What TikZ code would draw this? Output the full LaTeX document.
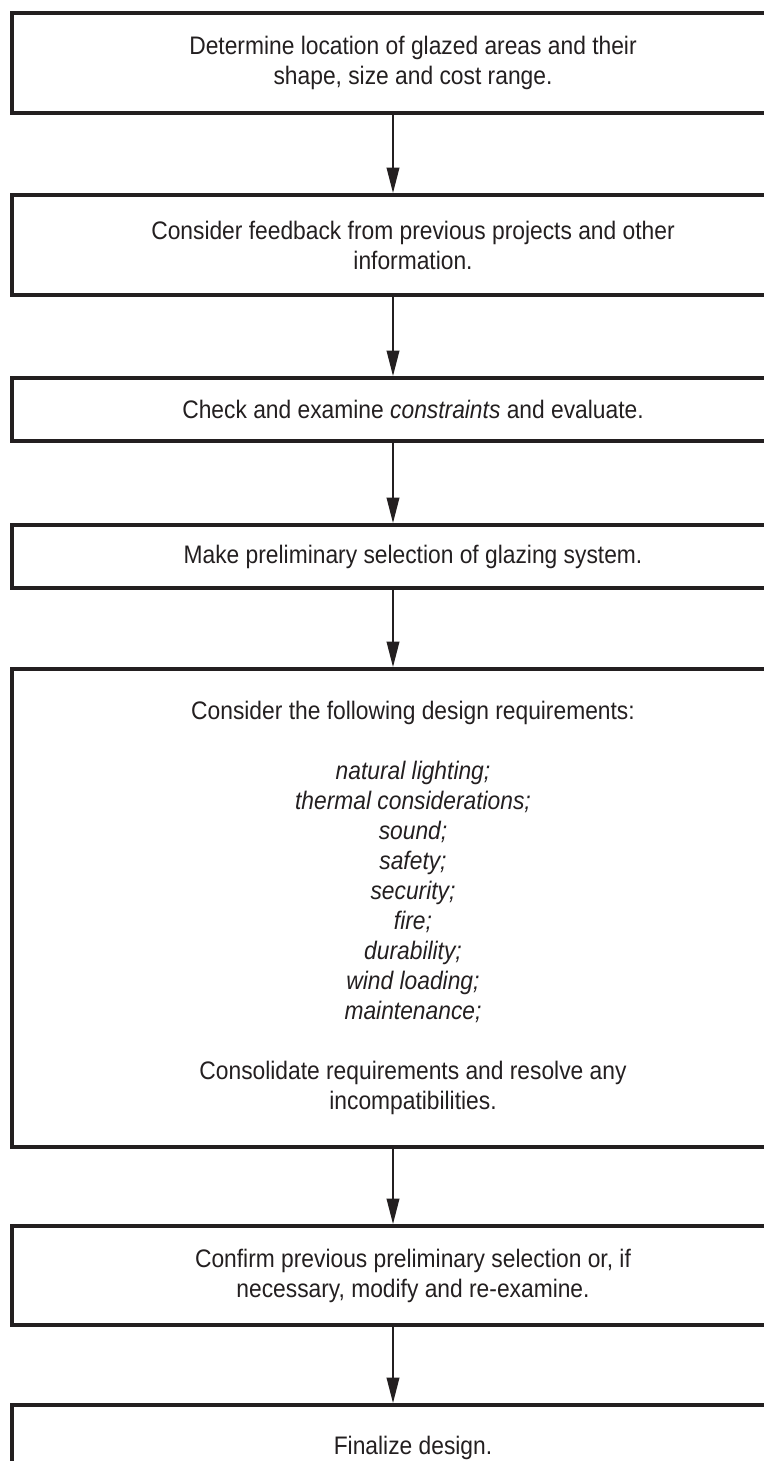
\documentclass[tikz,border=0pt]{standalone}
\usepackage{fontspec}
\setmainfont{Liberation Sans}[FakeStretch=0.9]
\usetikzlibrary{arrows.meta}
\definecolor{ink}{HTML}{231F20}

\begin{document}
\begin{tikzpicture}[
        x=0.75pt, y=-0.75pt, % one unit = one pixel, y runs downwards
        font=\fontsize{19}{22.5}\selectfont, % size of all the texts
        % --- own styles ---
        stagebox/.style={draw=ink, text=ink, line width=3pt, align=center,
        minimum width=601.5pt, inner sep=0pt},
        flowarrow/.style={-{Triangle[length=19pt, width=9.5pt]}, line width=1.1pt, ink},
    ]
        % --- 1. page size, boxes run past the right and bottom edge ---
        \useasboundingbox (0,0) rectangle (764,1461);
        \clip (0,0) rectangle (764,1461);

        % --- 2. the stages, top to bottom ---
        \node[stagebox, minimum height=75pt] (locate) at (413,63)
            {Determine location of glazed areas and their\\ shape, size and cost range.};
        \node[stagebox, minimum height=75pt] (feedback) at (413,245)
            {Consider feedback from previous projects and other\\ information.};
        \node[stagebox, minimum height=47.25pt] (constraints) at (413,409.5)
            {Check and examine \textit{constraints} and evaluate.};
        \node[stagebox, minimum height=47.25pt] (preselect) at (413,556.5)
            {Make preliminary selection of glazing system.};
        \node[stagebox, minimum height=358.5pt] (requirements) at (413,908)
            {Consider the following design requirements:\\[22.5pt]
             \textit{natural lighting;}\\ \textit{thermal considerations;}\\
             \textit{sound;}\\ \textit{safety;}\\ \textit{security;}\\
             \textit{fire;}\\ \textit{durability;}\\ \textit{wind loading;}\\
             \textit{maintenance;}\\[22.5pt]
             Consolidate requirements and resolve any\\ incompatibilities.};
        \node[stagebox, minimum height=74.25pt] (confirm) at (413,1275.5)
            {Confirm previous preliminary selection or, if\\ necessary, modify and re-examine.};
        \node[stagebox, minimum height=64.5pt] (finalize) at (413,1448)
            {Finalize design.};

        % --- 3. arrows between the stages ---
        \coordinate (axis) at (393,0);
        \foreach \from/\to in {locate/feedback, feedback/constraints, constraints/preselect,
                preselect/requirements, requirements/confirm, confirm/finalize} {
            \draw[flowarrow] (\from.south -| axis) -- (\to.north -| axis);
        }
    \end{tikzpicture}
\end{document}
